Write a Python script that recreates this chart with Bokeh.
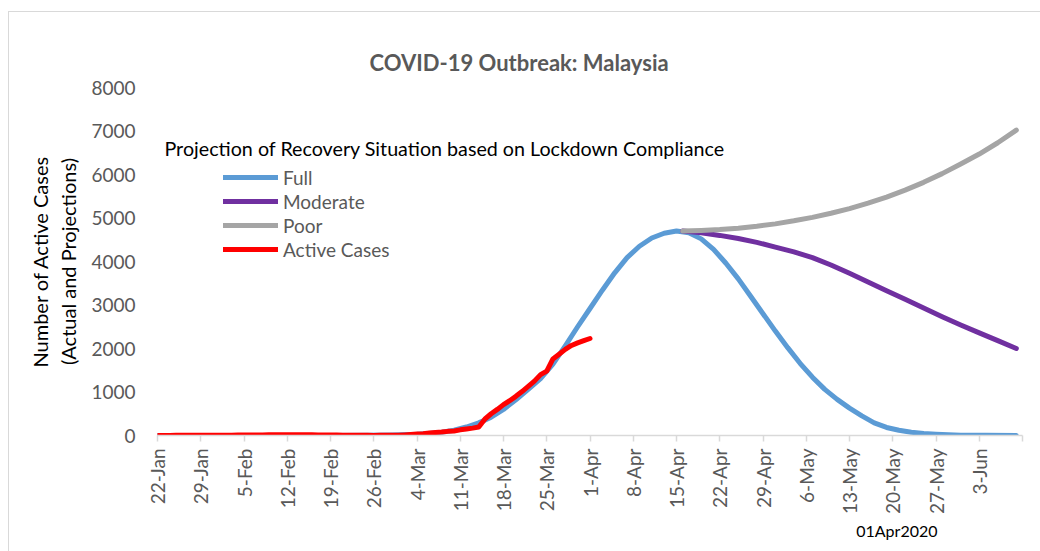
from math import pi
from bokeh.plotting import figure
from bokeh.models import Range1d, Label, Legend, LegendItem, FixedTicker, Title
from bokeh.embed import file_html
from bokeh.resources import INLINE

# ---- data (day index 0 = 22-Jan-2020) ----
tick_days = [0, 7, 14, 21, 28, 35, 42, 49, 56, 63, 70, 77, 84, 91, 98, 105, 112, 119, 126, 133, 140]
tick_labels = ["22-Jan", "29-Jan", "5-Feb", "12-Feb", "19-Feb", "26-Feb", "4-Mar", "11-Mar",
               "18-Mar", "25-Mar", "1-Apr", "8-Apr", "15-Apr", "22-Apr", "29-Apr", "6-May",
               "13-May", "20-May", "27-May", "3-Jun", ""]
y_ticks = [0, 1000, 2000, 3000, 4000, 5000, 6000, 7000, 8000]

full_days = [0, 14, 28, 34, 38, 42, 44, 46, 48, 50, 52, 54, 56, 58, 60, 62, 64, 66, 68, 70,
             72, 74, 76, 78, 80, 82, 84, 86, 88, 90, 92, 94, 96, 98, 100, 102, 104, 106, 108,
             110, 112, 114, 116, 118, 120, 122, 124, 126, 128, 130, 134, 139]
full_values = [0, 0, 2, 6, 12, 30, 48, 75, 120, 195, 290, 420, 600, 820, 1060, 1310, 1640, 2060,
               2500, 2920, 3340, 3740, 4090, 4350, 4540, 4650, 4700, 4660, 4520, 4280, 3960,
               3600, 3200, 2800, 2400, 2020, 1660, 1340, 1060, 830, 630, 450, 290, 185, 120,
               75, 45, 28, 15, 8, 3, 0]

moderate_days = [85, 88, 91, 94, 97, 100, 103, 106, 109, 112, 115, 118, 121, 124, 127, 130,
                 133, 136, 139]
moderate_values = [4700, 4660, 4600, 4530, 4440, 4330, 4220, 4090, 3920, 3730, 3530, 3330,
                   3130, 2930, 2730, 2540, 2360, 2180, 2000]

poor_days = [85, 88, 91, 94, 97, 100, 103, 106, 109, 112, 115, 118, 121, 124, 127, 130, 133,
             136, 139]
poor_values = [4700, 4715, 4735, 4765, 4810, 4865, 4935, 5015, 5110, 5215, 5340, 5480, 5640,
               5820, 6020, 6240, 6470, 6730, 7020]

active_days = list(range(0, 71))
active_cases = [0, 0, 0, 3, 4, 4, 4, 7, 8, 8, 8, 8, 8, 10, 12, 12, 14, 14, 16, 16, 16,
                17, 17, 16, 15, 15, 14, 12, 11, 10, 8, 6, 5, 4, 3, 2, 3, 3, 4, 7, 14,
                24, 33, 40, 55, 70, 78, 95, 105, 130, 150, 170, 195, 380, 500, 600, 710,
                800, 900, 1010, 1130, 1250, 1400, 1480, 1760, 1870, 1980, 2070, 2130,
                2180, 2230]

series_names = ["Full", "Moderate", "Poor", "Active Cases"]
series_colors = ["#5B9BD5", "#7030A0", "#A5A5A5", "#FF0000"]

FONT = "Lato"
GRAY = "#595959"
EDGE = "#D9D9D9"

p = figure(width=1040, height=551, output_backend="svg", toolbar_location=None,
           x_range=Range1d(0, 140), y_range=Range1d(0, 8000),
           min_border_left=157, min_border_right=18, min_border_top=87, min_border_bottom=116)
p.background_fill_color = None
p.border_fill_color = None
p.styles = {"background": ("linear-gradient(%s,%s) 8px 11px / 100%% 1px no-repeat, "
                           "linear-gradient(%s,%s) 8px 11px / 1px 100%% no-repeat, #FFFFFF")
                          % (EDGE, EDGE, EDGE, EDGE)}
p.outline_line_color = None
p.xgrid.grid_line_color = None
p.ygrid.grid_line_color = None

p.title.text = "COVID-19 Outbreak: Malaysia"
p.title.align = "left"
p.title.offset = 212
p.title.text_font = FONT
p.title.text_font_size = "22px"
p.title.text_font_style = "bold"
p.title.text_color = GRAY
p.title.standoff = 24

# x axis
p.xaxis.ticker = FixedTicker(ticks=tick_days)
p.xaxis.major_label_overrides = {d: s for d, s in zip(tick_days, tick_labels)}
p.xaxis.major_label_orientation = pi / 2
p.xaxis.axis_line_color = EDGE
p.xaxis.axis_line_width = 1.5
p.xaxis.major_tick_line_color = EDGE
p.xaxis.major_tick_line_width = 1.5
p.xaxis.major_tick_out = 6
p.xaxis.major_tick_in = 0
p.xaxis.minor_tick_line_color = None
p.xaxis.major_label_standoff = 7
p.xaxis.major_label_text_font = FONT
p.xaxis.major_label_text_font_size = "19px"
p.xaxis.major_label_text_color = GRAY

# y axis
p.yaxis.ticker = FixedTicker(ticks=y_ticks)
p.yaxis.axis_line_color = None
p.yaxis.major_tick_line_color = None
p.yaxis.minor_tick_line_color = None
p.yaxis.major_tick_out = 0
p.yaxis.major_tick_in = 0
p.yaxis.major_label_standoff = 22
p.yaxis.major_label_text_font = FONT
p.yaxis.major_label_text_font_size = "19px"
p.yaxis.major_label_text_color = GRAY
p.yaxis.axis_label = "Number of Active Cases\n(Actual and Projections)"
p.yaxis.axis_label_text_font = FONT
p.yaxis.axis_label_text_font_size = "20px"
p.yaxis.axis_label_text_font_style = "normal"
p.yaxis.axis_label_text_color = "#000000"
p.yaxis.axis_label_standoff = 8

renderers = []
for xs, ys, c in [(full_days, full_values, series_colors[0]),
                  (moderate_days, moderate_values, series_colors[1]),
                  (poor_days, poor_values, series_colors[2]),
                  (active_days, active_cases, series_colors[3])]:
    r = p.line(xs, ys, line_color=c, line_width=5, line_cap="round", line_join="round")
    renderers.append(r)

legend = Legend(items=[LegendItem(label=n, renderers=[r]) for n, r in zip(series_names, renderers)],
                location=(66, 174), glyph_width=55, glyph_height=24, label_height=24,
                spacing=0, padding=0, margin=0, label_standoff=5,
                border_line_color=None, background_fill_alpha=0,
                label_text_font=FONT, label_text_font_size="19px", label_text_color=GRAY)
p.add_layout(legend)

p.add_layout(Label(x=1.13, y=6601, text="Projection of Recovery Situation based on Lockdown Compliance",
                   text_align="left", text_baseline="middle", text_font=FONT,
                   text_font_size="19.7px", text_color="#000000"))

note = Title(text="01Apr2020", align="right", offset=85, text_font=FONT,
             text_font_size="16px", text_font_style="normal", text_color="#000000",
             standoff=4)
p.add_layout(note, "below")

open("out.html", "w").write(file_html(p, INLINE))
